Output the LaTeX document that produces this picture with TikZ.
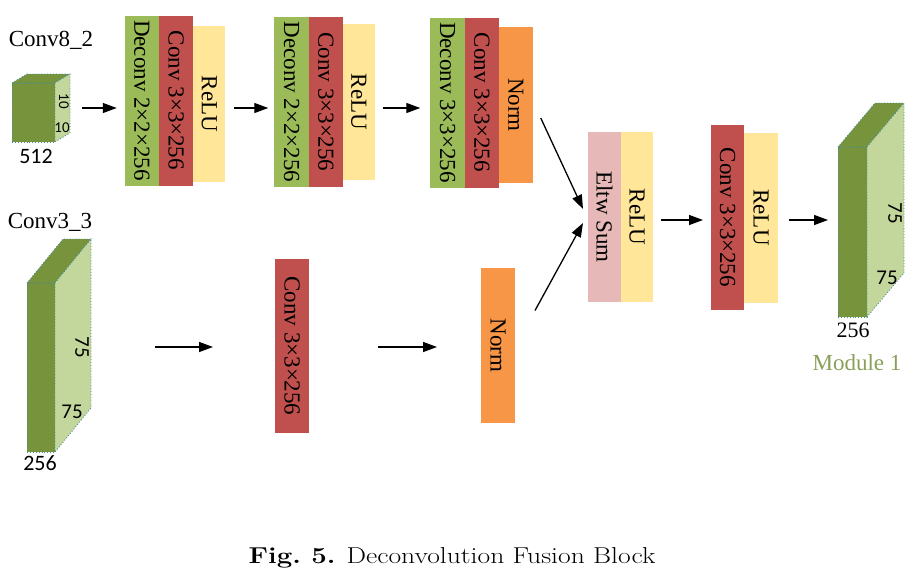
\documentclass[tikz,border=0pt]{standalone}
\usepackage{fontspec}
\usepackage{graphicx}
\usepackage{xcolor}
\usepackage{tikz}
\usetikzlibrary{arrows.meta, positioning, calc}
\newfontfamily\tnrfont{Liberation Serif}
\newfontfamily\calfont{Carlito}
\definecolor{dcgreen}{HTML}{9BBB59}
\definecolor{cvred}{HTML}{C0504D}
\definecolor{reyellow}{HTML}{FFE699}
\definecolor{nmorange}{HTML}{F79646}
\definecolor{elpink}{HTML}{E6B9B8}
\definecolor{cubedark}{HTML}{77933C}
\definecolor{cubelight}{HTML}{C3D69B}
\definecolor{cubeedge}{HTML}{4A8C9A}
\definecolor{modgreen}{HTML}{8AA05A}

% top and side faces of a feature-map cube
\newcommand{\cubefaces}[3]{%
  \draw[cubeface, fill=cubedark] (#1.north west) -- ++(#2,#3) -- ($(#1.north east)+(#2,#3)$) -- (#1.north east) -- cycle;
  \draw[cubeface, fill=cubelight] (#1.north east) -- ++(#2,#3) -- ($(#1.south east)+(#2,#3)$) -- (#1.south east) -- cycle;}

\begin{document}
\begin{tikzpicture}[
  x=1pt, y=-1pt,
  blk/.style={rectangle, inner sep=0pt, outer sep=0pt, font=\fontsize{23}{26}\tnrfont},
  deconvblk/.style={blk, fill=dcgreen, minimum width=34.5, minimum height=170},
  convblk/.style={blk, fill=cvred, minimum width=34, minimum height=170},
  relublk/.style={blk, fill=reyellow, minimum width=32, minimum height=156},
  normblk/.style={blk, fill=nmorange, minimum width=34, minimum height=156},
  cubeface/.style={draw=cubeedge, dotted, line width=0.9pt},
  cubefront/.style={rectangle, cubeface, fill=cubedark, inner sep=0pt, outer sep=0pt},
  lbl/.style={inner sep=0pt, font=\fontsize{23}{26}\tnrfont},
  numlbl/.style={inner sep=0pt, font=\fontsize{21}{23}\calfont},
  arrow/.style={-{Triangle[length=14pt,width=10pt]}, line width=1.3pt}
]
  \useasboundingbox (0,0) rectangle (919,584);
  \coordinate (r1) at (0,108);
  \coordinate (r2) at (0,347);
  \coordinate (r3) at (0,220);

  % Conv8_2 branch
  \node[lbl] (lbl82) at (51,40) {Conv8\_2};
  \node[cubefront, minimum width=43, minimum height=59] (in1) at (33.5,112.5) {};
  \cubefaces{in1}{15}{-9}
  \node[numlbl, font=\fontsize{15}{16}\calfont, rotate=-90] (n1a) at (64,101) {10};
  \node[numlbl, font=\fontsize{15}{16}\calfont] (n1b) at (62,128) {10};
  \node[numlbl, font=\fontsize{22}{24}\calfont] (n1c) at (36,156) {512};

  \node[deconvblk] (deconv1) at (142,100.5) {\rotatebox{-90}{Deconv 2×2×256}};
  \node[convblk, right=0pt of deconv1] (conv1) {\rotatebox{-90}{Conv 3×3×256}};
  \node[relublk, right=0pt of conv1, yshift=-3.5pt] (relu1) {\rotatebox{-90}{ReLU}};

  \node[deconvblk] (deconv2) at (291.5,102) {\rotatebox{-90}{Deconv 2×2×256}};
  \node[convblk, right=0pt of deconv2] (conv2) {\rotatebox{-90}{Conv 3×3×256}};
  \node[relublk, right=0pt of conv2] (relu2) {\rotatebox{-90}{ReLU}};

  \node[deconvblk] (deconv3) at (447.5,102.5) {\rotatebox{-90}{Deconv 3×3×256}};
  \node[convblk, right=0pt of deconv3] (conv3) {\rotatebox{-90}{Conv 3×3×256}};
  \node[normblk, right=0pt of conv3, yshift=-2.5pt] (norm3) {\rotatebox{-90}{Norm}};

  % Conv3_3 branch
  \node[lbl] (lbl33) at (50,222) {Conv3\_3};
  \node[cubefront, minimum width=28, minimum height=169] (in2) at (41,367.5) {};
  \cubefaces{in2}{36}{-44}
  \node[numlbl, rotate=-90] (n2a) at (82,347) {75};
  \node[numlbl] (n2b) at (72,412) {75};
  \node[numlbl, font=\fontsize{22}{24}\calfont] (n2c) at (40,463) {256};

  \node[convblk, minimum height=174] (conv4) at (292,346) {\rotatebox{-90}{Conv 3×3×256}};
  \node[normblk, minimum height=155] (norm4) at (498,345.5) {\rotatebox{-90}{Norm}};

  % fusion
  \node[blk, fill=elpink, minimum width=33, minimum height=170] (eltw) at (604.5,217) {\rotatebox{-90}{Eltw Sum}};
  \node[relublk, minimum height=170, right=0pt of eltw] (relu5) {\rotatebox{-90}{ReLU}};

  \node[convblk, minimum width=33, minimum height=185] (conv6) at (727.5,217.5) {\rotatebox{-90}{Conv 3×3×256}};
  \node[relublk, minimum width=34, minimum height=170, right=0pt of conv6] (relu6) {\rotatebox{-90}{ReLU}};

  % Module 1 output
  \node[cubefront, minimum width=29, minimum height=170] (out) at (852.5,232) {};
  \cubefaces{out}{37}{-44}
  \node[numlbl, rotate=-90] (n3a) at (895,213) {75};
  \node[numlbl] (n3b) at (887,278) {75};
  \node[lbl, font=\fontsize{22}{24}\tnrfont] (n3c) at (853,330) {256};
  \node[lbl, text=modgreen] (mod1) at (857,363) {Module 1};

  % arrows
  \draw[arrow, shorten <=27pt, shorten >=8pt] (in1.east |- r1) -- (deconv1.west |- r1);
  \draw[arrow, shorten <=9pt, shorten >=6pt] (relu1.east |- r1) -- (deconv2.west |- r1);
  \draw[arrow, shorten <=8pt, shorten >=10pt] (relu2.east |- r1) -- (deconv3.west |- r1);
  \draw[arrow, shorten <=100pt, shorten >=62pt] (in2.east |- r2) -- (conv4.west |- r2);
  \draw[arrow, shorten <=69pt, shorten >=44pt] (conv4.east |- r2) -- (norm4.west |- r2);
  \draw[arrow] ($(norm3.east)+(8,13)$) -- ($(eltw.west)+(-5,-8)$);
  \draw[arrow] ($(norm4.east)+(20,-35)$) -- ($(eltw.west)+(-5,6)$);
  \draw[arrow, shorten <=8pt, shorten >=8pt] (relu5.east |- r3) -- (conv6.west |- r3);
  \draw[arrow, shorten <=11pt, shorten >=10pt] (relu6.east |- r3) -- (out.west |- r3);

  \node[inner sep=0pt] (caption) at (452,558) {\scalebox{1.2}[1]{\fontsize{23}{27}\selectfont\textbf{Fig.~5.} Deconvolution Fusion Block}};
\end{tikzpicture}
\end{document}
